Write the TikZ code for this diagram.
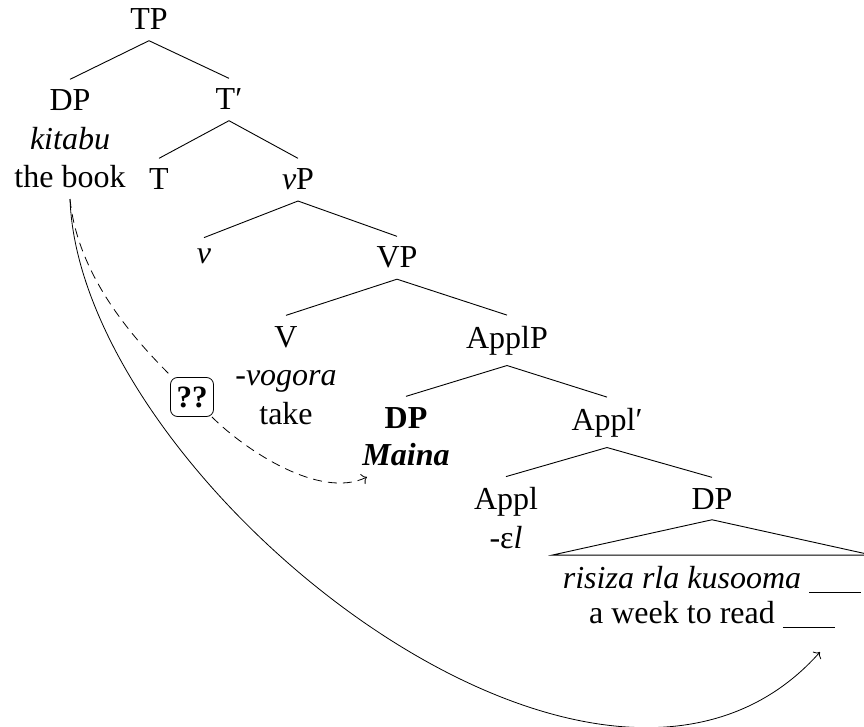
\documentclass[tikz,border=0pt]{standalone}
\usepackage{fontspec}
\setmainfont{Liberation Serif}
\usetikzlibrary{arrows.meta}
\begin{document}
\begin{tikzpicture}[x=1pt,y=-1pt,
  tn/.style={font=\fontsize{32}{38.5}\selectfont, inner sep=10.5pt, anchor=base, align=center},
  br/.style={line width=0.9pt},
  conn/.style={line width=0.8pt},
  tipto/.style={-{To[length=5pt,width=11pt]}},
  qbox/.style={draw, rounded corners=7pt, line width=0.8pt, inner sep=1pt,
    minimum width=43pt, minimum height=39pt, font=\fontsize{31}{32}\selectfont\bfseries}]
\useasboundingbox (0,0) rectangle (864,727);
% tree nodes (multi-line nodes placed by the baseline of their last line)
\node[tn] (tp) at (149,30) {TP};
\node[tn] (dpk) at (70,188) {DP\\\textit{kitabu}\\the book};
\node[tn] (tbar) at (229,110) {T′};
\node[tn] (t) at (159,190) {T};
\node[tn] (vp) at (298,190) {\textit{v}P};
\node[tn] (v) at (204,263) {\textit{v}};
\node[tn] (VP) at (397,268) {VP};
\node[tn] (V) at (286,424) {V\\\textit{-vogora}\\take};
\node[tn] (applp) at (507,348) {ApplP};
\node[tn, font=\fontsize{32}{37}\selectfont] (dpm) at (406,465) {\textbf{DP}\\\textbf{\textit{Maina}}};
\node[tn] (applbar) at (607,430) {Appl′};
\node[tn] (appl) at (506,548) {Appl\\-ɛ\textit{l}};
\node[tn] (dp2) at (712,509) {DP};
\node[tn, font=\fontsize{32}{35}\selectfont] (txt) at (712,623)
  {\textit{risiza rla kusooma} \rule[-5pt]{52pt}{1.2pt}\\a week to read \rule[-5pt]{52pt}{1.2pt}};
% branches
\draw[br] (tp.south) -- (dpk.north);
\draw[br] (tp.south) -- (tbar.north);
\draw[br] (tbar.south) -- (t.north);
\draw[br] (tbar.south) -- (vp.north);
\draw[br] (vp.south) -- (v.north);
\draw[br] (vp.south) -- (VP.north);
\draw[br] (VP.south) -- (V.north);
\draw[br] (VP.south) -- (applp.north);
\draw[br] (applp.south) -- (dpm.north);
\draw[br] (applp.south) -- (applbar.north);
\draw[br] (applbar.south) -- (appl.north);
\draw[br] (applbar.south) -- (dp2.north);
\draw[br] (dp2.south) -- (txt.north west) -- (txt.north east) -- cycle;
% movement arrows
\node[qbox] (qq) at (192,397) {??};
\coordinate (mend) at (367,477);
\coordinate (gend) at (820,652);
\draw[conn, dash pattern=on 9pt off 6pt, tipto] (dpk.south) .. controls (78,280) and (140,345) .. (qq)
  .. controls (245,450) and (320,500) .. (mend);
\draw[conn, tipto] (dpk.south) .. controls (80,480) and (600,900) .. (gend);
\end{tikzpicture}
\end{document}
